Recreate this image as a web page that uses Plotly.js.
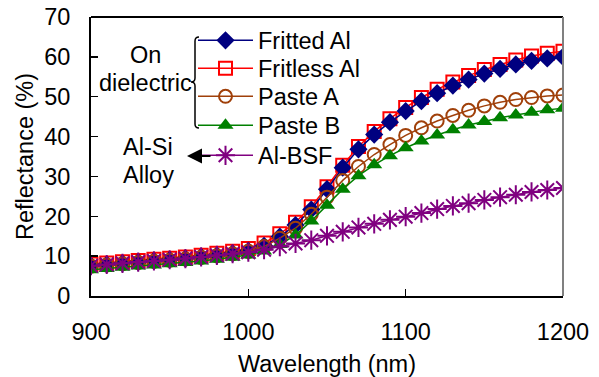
<!DOCTYPE html>
<html><head><meta charset="utf-8">
<script src="https://cdn.plot.ly/plotly-3.0.1.min.js"></script>
<style>html,body{margin:0;padding:0;background:#fff}#chart{width:599px;height:377px}</style>
</head><body><div id="chart"></div>
<script>
const wavelength = [900,910,920,930,940,950,960,970,980,990,1000,1010,1020,1030,1040,1050,1060,1070,1080,1090,1100,1110,1120,1130,1140,1150,1160,1170,1180,1190,1200];
const frittedAl = [7.6,7.9,8.2,8.5,8.8,9.1,9.4,9.8,10.2,10.7,11.3,12.6,14.9,17.8,21.7,26.8,32.2,36.8,40.5,43.6,46.4,48.9,50.9,52.8,54.3,55.8,57.0,58.1,59.0,59.6,60.0];
const fritlessAl = [8.0,8.3,8.6,8.9,9.2,9.5,9.8,10.2,10.7,11.2,11.9,13.3,15.6,18.5,22.4,27.4,32.8,37.5,41.3,44.5,47.3,49.8,51.9,53.7,55.3,56.8,58.1,59.2,60.2,60.9,61.4];
const pasteA = [7.5,7.8,8.1,8.4,8.7,9.0,9.3,9.7,10.1,10.6,11.2,12.4,14.5,17.0,20.5,24.8,29.0,32.5,35.5,38.0,40.3,42.2,43.9,45.3,46.6,47.7,48.6,49.3,49.8,50.2,50.4];
const pasteB = [6.6,6.9,7.2,7.5,7.8,8.1,8.4,8.8,9.2,9.7,10.3,11.3,12.9,15.3,18.8,22.8,26.8,30.2,32.9,35.2,37.2,38.9,40.4,41.7,42.9,43.8,44.7,45.4,46.1,46.7,47.1];
const alBSF = [7.6,7.9,8.2,8.5,8.8,9.1,9.4,9.8,10.2,10.6,11.0,11.6,12.4,13.2,14.0,15.1,16.1,17.2,18.1,19.1,19.9,20.8,21.8,22.6,23.3,24.1,24.8,25.4,26.1,26.6,27.1];
const xTicks = [900,1000,1100,1200];
const yTicks = [0,10,20,30,40,50,60,70];

const FONT = 'Liberation Sans, Arial, sans-serif';
const FS = 23.5;
const traces = [
  {name:'Fritless Al', legend:'legend2', x:wavelength, y:fritlessAl, mode:'lines+markers',
   line:{color:'#FF0000', width:1.5}, marker:{symbol:'square-open', size:13, color:'#FF0000', line:{width:2}}},
  {name:'Fritted Al', legend:'legend', x:wavelength, y:frittedAl, mode:'lines+markers',
   line:{color:'#000080', width:1.5}, marker:{symbol:'diamond', size:14, color:'#000080'}},
  {name:'Paste A', legend:'legend3', x:wavelength, y:pasteA, mode:'lines+markers',
   line:{color:'#A0400A', width:1.5}, marker:{symbol:'circle-open', size:13, color:'#A0400A', line:{width:2}}},
  {name:'Paste B', legend:'legend4', x:wavelength, y:pasteB, mode:'lines+markers',
   line:{color:'#008000', width:1.5}, marker:{symbol:'triangle-up', size:14, color:'#008000'}},
  {name:'Al-BSF', legend:'legend5', x:wavelength, y:alBSF, mode:'lines+markers',
   line:{color:'#800080', width:1.5}, marker:{symbol:'asterisk-open', size:16, color:'#800080', line:{width:2, color:'#800080'}}}
];

function px2x(p){ return (p-91)/(472/300)+900; }
function px2y(p){ return (296-p)/(279/70); }
function legAt(rowPx){
  return {x:(193-91)/472, y:(296-rowPx)/279, xanchor:'left', yanchor:'middle', bgcolor:'rgba(0,0,0,0)',
          font:{family:FONT, size:FS, color:'#000'}, itemwidth:55};
}
const bx = px2x(195), be = px2x(199), bt = px2x(191);
const brace = 'M'+be+','+px2y(37)+' Q'+bx+','+px2y(37)+' '+bx+','+px2y(41)+
  ' L'+bx+','+px2y(78)+' Q'+bx+','+px2y(82)+' '+bt+','+px2y(82)+
  ' Q'+bx+','+px2y(82)+' '+bx+','+px2y(86)+
  ' L'+bx+','+px2y(124)+' Q'+bx+','+px2y(128)+' '+be+','+px2y(128);

const layout = {
  width:599, height:377,
  margin:{l:91, r:36, t:17, b:81},
  paper_bgcolor:'#fff', plot_bgcolor:'#fff',
  font:{family:FONT, size:FS, color:'#000'},
  showlegend:true,
  legend:legAt(40.5), legend2:legAt(68.5), legend3:legAt(96.5), legend4:legAt(125.5), legend5:legAt(155.5),
  xaxis:{range:[900,1200], tickvals:xTicks, ticks:'inside', ticklen:7, tickwidth:1.5, tickcolor:'#000',
         showline:true, linecolor:'#000', linewidth:2, mirror:false, showgrid:false, zeroline:false,
         ticklabelstandoff:14,
         title:{text:'Wavelength (nm)', font:{family:FONT, size:FS}, standoff:16}},
  yaxis:{range:[0,70], tickvals:yTicks, ticks:'inside', ticklen:7, tickwidth:1.5, tickcolor:'#000',
         showline:true, linecolor:'#000', linewidth:2, mirror:false, showgrid:false, zeroline:false,
         ticklabelstandoff:14,
         title:{text:'Reflectance (%)', font:{family:FONT, size:FS}, standoff:4}},
  shapes:[
    {type:'line', xref:'paper', yref:'paper', x0:0, x1:1, y0:1, y1:1, line:{color:'#000', width:2}},
    {type:'line', xref:'paper', yref:'paper', x0:1, x1:1, y0:0, y1:1, line:{color:'#808080', width:2}},
    {type:'path', xref:'x', yref:'y', path:brace, line:{color:'#000', width:1.5}}
  ],
  annotations:[
    {x:px2x(145), y:px2y(55), xref:'x', yref:'y', text:'On', showarrow:false, font:{family:FONT,size:FS}},
    {x:px2x(145), y:px2y(83), xref:'x', yref:'y', text:'dielectric', showarrow:false, font:{family:FONT,size:FS}},
    {x:px2x(148), y:px2y(147), xref:'x', yref:'y', text:'Al-Si', showarrow:false, font:{family:FONT,size:FS}},
    {x:px2x(148), y:px2y(175), xref:'x', yref:'y', text:'Alloy', showarrow:false, font:{family:FONT,size:FS}},
    {x:px2x(187), y:px2y(156), xref:'x', yref:'y', ax:px2x(212), ay:px2y(156), axref:'x', ayref:'y',
     text:'', showarrow:true, arrowhead:2, arrowsize:1.5, arrowwidth:2, arrowcolor:'#000'}
  ]
};
Plotly.newPlot('chart', traces, layout, {displayModeBar:false, staticPlot:true});
</script></body></html>
